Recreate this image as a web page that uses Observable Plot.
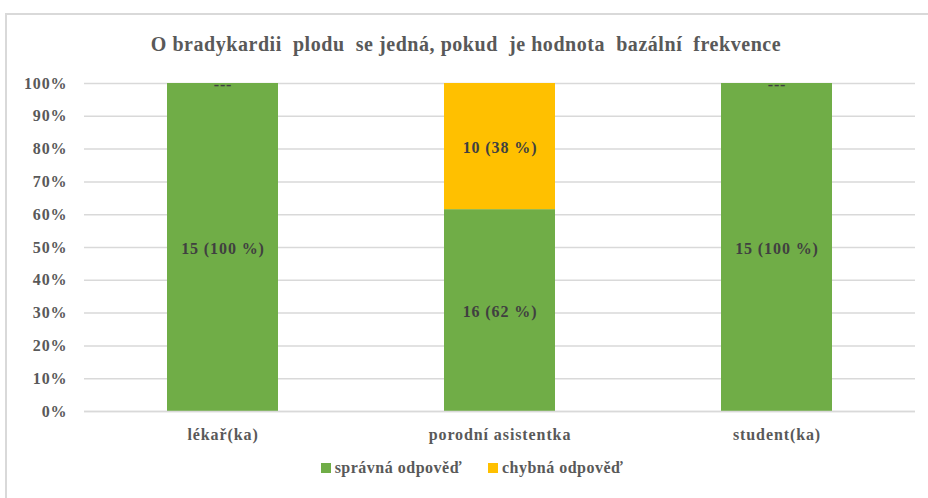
<!DOCTYPE html>
<html>
<head>
<meta charset="utf-8">
<script src="https://cdn.jsdelivr.net/npm/d3@7"></script>
<script src="https://cdn.jsdelivr.net/npm/@observablehq/plot@0.6"></script>
<style>
  html, body { margin: 0; padding: 0; background: #fff; }
  #wrap { position: relative; width: 928px; height: 498px; overflow: hidden; font-family: "Liberation Serif", "Times New Roman", serif; }
  #frame { position: absolute; left: 5px; top: 13px; width: 960px; height: 520px; border: 2px solid #d9d9d9; box-sizing: border-box; }
  #title { position: absolute; left: 0; top: 0; width: 932px; height: 70px; line-height: 88px; text-align: center; font-size: 20px; letter-spacing: 0.55px; font-weight: bold; color: #595959; white-space: pre; }
  #chart { position: absolute; left: 0; top: 70px; }
  #chart svg text { letter-spacing: 0.9px; }
  #legend { position: absolute; left: 0; top: 450px; width: 944px; height: 36px; display: flex; justify-content: center; align-items: center; gap: 26px; font-size: 16px; letter-spacing: 0.5px; font-weight: bold; color: #595959; }
  .item { display: flex; align-items: center; gap: 4px; }
  .sw { width: 10px; height: 10px; display: inline-block; }
</style>
</head>
<body>
<div id="wrap">
  <div id="frame"></div>
  <div id="title">O bradykardii  plodu  se jedná, pokud  je hodnota  bazální  frekvence</div>
  <div id="chart"></div>
  <div id="legend"></div>
</div>
<script>
const categories = ["lékař(ka)", "porodní asistentka", "student(ka)"];
const seriesNames = ["správná odpověď", "chybná odpověď"];
const spravna = [15, 16, 15];
const chybna = [0, 10, 0];
const colors = ["#70AD47", "#FFC000"];
const yTicks = [0, 0.1, 0.2, 0.3, 0.4, 0.5, 0.6, 0.7, 0.8, 0.9, 1];

const rows = [];
categories.forEach((c, i) => {
  const total = spravna[i] + chybna[i];
  [spravna[i], chybna[i]].forEach((v, s) => {
    rows.push({
      cat: c,
      series: seriesNames[s],
      value: v,
      label: v === 0 ? "---" : `${v} (${Math.round(v / total * 100)} %)`
    });
  });
});

const chart = Plot.plot({
  width: 928,
  height: 376,
  marginTop: 13,
  marginBottom: 35,
  marginLeft: 84,
  marginRight: 13,
  style: { fontFamily: "'Liberation Serif', 'Times New Roman', serif", fontSize: "16px", fontWeight: "bold", color: "#595959", background: "transparent" },
  x: { domain: categories, paddingInner: 0.6, paddingOuter: 0.3, label: null },
  y: { domain: [0, 1], label: null },
  color: { domain: seriesNames, range: colors },
  marks: [
    Plot.ruleY(yTicks, { stroke: "#d9d9d9", strokeWidth: 1.5 }),
    Plot.axisY({ ticks: yTicks, tickFormat: d3.format(".0%"), tickSize: 0, tickPadding: 17, fill: "#595959", fontSize: 16, label: null }),
    Plot.axisX({ tickSize: 0, tickPadding: 17, fill: "#595959", fontSize: 16, label: null }),
    Plot.barY(rows, Plot.stackY({ offset: "normalize", x: "cat", y: "value", z: "series", fill: "series", order: seriesNames })),
    Plot.text(rows, Plot.stackY({ offset: "normalize", x: "cat", y: "value", z: "series", order: seriesNames, text: "label", fill: "#404040", fontSize: 16, fontWeight: "bold", dy: 1 })),
    Plot.ruleY([0], { stroke: "#d9d9d9", strokeWidth: 1.5 })
  ]
});
document.getElementById("chart").appendChild(chart);

const legend = document.getElementById("legend");
seriesNames.forEach((n, i) => {
  const item = document.createElement("div");
  item.className = "item";
  const sw = document.createElement("span");
  sw.className = "sw";
  sw.style.background = colors[i];
  const t = document.createElement("span");
  t.textContent = n;
  item.appendChild(sw);
  item.appendChild(t);
  legend.appendChild(item);
});
</script>
</body>
</html>
